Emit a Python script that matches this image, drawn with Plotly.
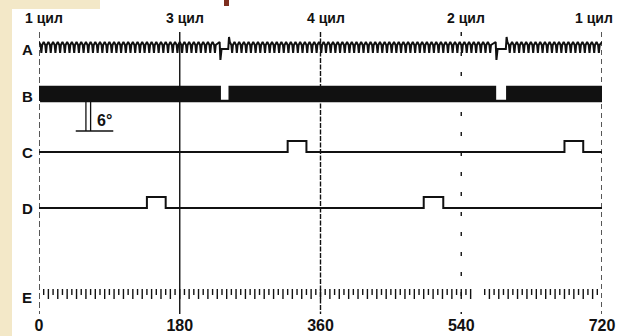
import plotly.graph_objects as go

# ---------------- data ----------------
CYL_LABELS = ["1 цил", "3 цил", "4 цил", "2 цил", "1 цил"]
GUIDE_DEG = [0, 180, 360, 540, 720]
TICK_LABELS = ["0", "180", "360", "540", "720"]
ROW_NAMES = ["A", "B", "C", "D", "E"]

TOOTH_PITCH_DEG = 6                      # "6°" marked on the chart
GAP_WINDOWS_DEG = [(231, 244), (584, 599)]  # missing-tooth gaps (signals A, B)

C_PULSES_DEG = [(318, 342), (672, 696)]     # cam signal C
D_PULSES_DEG = [(138, 162), (492, 517)]     # signal D

E_MISSING_TICKS_DEG = [558, 564]            # marks not visible on the scale E

SIX_DEG_MARK = (60, 66)                     # the two lines of the 6° dimension

# ---------------- layout constants (vertical positions, styles) ----------------
W, H = 617, 336
ML, MR, MT, MB = 39, 15, 0, 22
PLOT_H = H - MT - MB

A_TOP, A_MID, A_BOT, A_REST, A_DIP, A_SPIKE = 42, 45, 53, 49, 60, 37
B_HI, B_LO = 87, 101
C_BASE, C_HI = 152, 141
D_BASE, D_HI = 208, 197
E_TOP, E_LONG_BOT, E_SHORT_BOT = 289, 299, 295
ROW_Y = [49, 96, 152, 208, 297]
GUIDE_TOP = 32
GUIDE_DASH = ["6px,3px", "solid", "5px,1.5px", "4px,16px", "5px,4px"]
INK = "#111111"


def segments():
    segs, start = [], 0
    for g0, g1 in GAP_WINDOWS_DEG:
        segs.append((start, g0))
        start = g1
    segs.append((start, 720))
    return segs


# signal A: toothed inductive signal with dip/spike at each gap
ax, ay = [], []
segs = segments()
for i, (s0, s1) in enumerate(segs):
    if i > 0:
        ax += [s0 - 1.0, s0]
        ay += [A_SPIKE, A_TOP]
    t = s0
    while t + TOOTH_PITCH_DEG <= s1 + 0.01:
        ax += [t, t + 2, t + 3, t + 4]
        ay += [A_TOP, A_MID, A_BOT, A_MID]
        t += TOOTH_PITCH_DEG
    ax.append(s1)
    ay.append(A_TOP)
    if i < len(segs) - 1:
        g0, g1 = GAP_WINDOWS_DEG[i]
        ax += [g0 + 1, g0 + 2.5, g1 - 2]
        ay += [A_DIP, A_REST, A_REST]

# signal B: square wave, low across the gaps
bx, by = [], []
for i, (s0, s1) in enumerate(segs):
    t = s0
    while t < s1 - 0.01:
        half = TOOTH_PITCH_DEG / 2
        bx += [t, t, min(t + half, s1), min(t + half, s1)]
        by += [B_LO, B_HI, B_HI, B_LO]
        t += TOOTH_PITCH_DEG
    if i < len(segs) - 1:
        g0, g1 = GAP_WINDOWS_DEG[i]
        bx += [g0, g1]
        by += [B_LO, B_LO]


def pulse_train(pulses, base, hi):
    xs, ys = [0], [base]
    for p0, p1 in pulses:
        xs += [p0, p0, p1, p1]
        ys += [base, hi, hi, base]
    xs.append(720)
    ys.append(base)
    return xs, ys


cx, cy = pulse_train(C_PULSES_DEG, C_BASE, C_HI)
dx, dy = pulse_train(D_PULSES_DEG, D_BASE, D_HI)

# scale E: alternating long/short degree marks
ex, ey = [], []
for k in range(1, 120):
    deg = k * TOOTH_PITCH_DEG
    if deg in E_MISSING_TICKS_DEG:
        continue
    ex += [deg, deg, None]
    ey += [E_TOP, E_LONG_BOT if k % 2 == 0 else E_SHORT_BOT, None]

fig = go.Figure()

# guide lines
for deg, dash in zip(GUIDE_DEG, GUIDE_DASH):
    fig.add_trace(go.Scatter(x=[deg, deg], y=[GUIDE_TOP, PLOT_H + 2], mode="lines",
                             line=dict(color=INK, width=1.4, dash=dash),
                             hoverinfo="skip", showlegend=False, cliponaxis=False))

fig.add_trace(go.Scatter(x=ax, y=ay, mode="lines", line=dict(color=INK, width=2),
                         showlegend=False, name="A"))
fig.add_trace(go.Scatter(x=bx, y=by, mode="lines", line=dict(color=INK, width=2.6),
                         showlegend=False, name="B"))
fig.add_trace(go.Scatter(x=cx, y=cy, mode="lines", line=dict(color=INK, width=2),
                         showlegend=False, name="C"))
fig.add_trace(go.Scatter(x=dx, y=dy, mode="lines", line=dict(color=INK, width=2),
                         showlegend=False, name="D"))
fig.add_trace(go.Scatter(x=ex, y=ey, mode="lines", line=dict(color=INK, width=1.4),
                         showlegend=False, name="E"))

# 6° dimension mark
m0, m1 = SIX_DEG_MARK
fig.add_trace(go.Scatter(x=[m0, m0, None, m1, m1, None, 47, 95],
                         y=[B_LO, 131, None, B_LO, 131, None, 131, 131],
                         mode="lines", line=dict(color=INK, width=1.3),
                         hoverinfo="skip", showlegend=False))

fig.add_annotation(x=(m1 + 18), y=120, text="6°", showarrow=False,
                   font=dict(family="Liberation Sans", size=16, color=INK, weight="bold"))

# cylinder labels
for deg, lab in zip(GUIDE_DEG, CYL_LABELS):
    shift = -8 if deg == 720 else 5
    fig.add_annotation(x=deg, y=18, text=lab, showarrow=False, xshift=shift,
                       font=dict(family="Liberation Sans", size=14, color=INK, weight="bold"))

# row letters
for name, yy in zip(ROW_NAMES, ROW_Y):
    fig.add_annotation(x=0, y=yy, text=name, showarrow=False, xshift=-12,
                       font=dict(family="Liberation Sans", size=15, color=INK, weight="bold"))

plot_w = W - ML - MR
shapes = [
    dict(type="rect", xref="paper", yref="paper", x0=-ML / plot_w, x1=(12 - ML) / plot_w,
         y0=-MB / PLOT_H, y1=1, fillcolor="#f3e8c8", line_width=0, layer="below"),
    dict(type="rect", xref="paper", yref="paper", x0=-ML / plot_w, x1=(100 - ML) / plot_w,
         y0=1 - 9 / PLOT_H, y1=1, fillcolor="#f3e8c8", line_width=0, layer="below"),
    dict(type="rect", xref="paper", yref="paper", x0=(224 - ML) / plot_w, x1=(229 - ML) / plot_w,
         y0=1 - 6 / PLOT_H, y1=1, fillcolor="#7d2f1f", line_width=0, layer="below"),
]

fig.update_layout(
    width=W, height=H,
    margin=dict(l=ML, r=MR, t=MT, b=MB),
    paper_bgcolor="white", plot_bgcolor="white",
    shapes=shapes,
    xaxis=dict(range=[0, 720], tickvals=GUIDE_DEG, ticktext=TICK_LABELS,
               showgrid=False, zeroline=False, showline=False, ticks="",
               tickfont=dict(family="Liberation Sans", size=16, color=INK, weight="bold"),
               fixedrange=True),
    yaxis=dict(range=[PLOT_H, 0], visible=False, fixedrange=True),
)

fig.write_html("out.html", config={"displayModeBar": False},
               post_script="document.body.style.margin='0px';")
